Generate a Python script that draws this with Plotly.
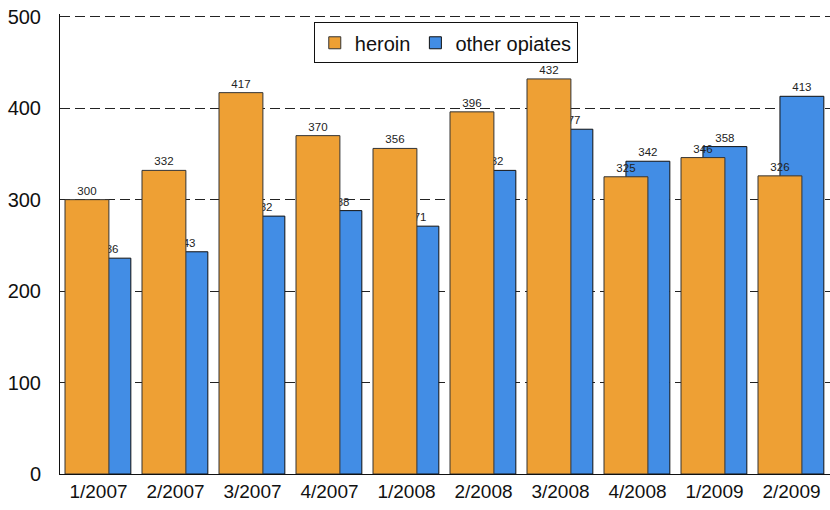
import plotly.graph_objects as go

categories = ["1/2007", "2/2007", "3/2007", "4/2007", "1/2008", "2/2008", "3/2008", "4/2008", "1/2009", "2/2009"]
heroin = [300, 332, 417, 370, 356, 396, 432, 325, 346, 326]
other_opiates = [236, 243, 282, 288, 271, 332, 377, 342, 358, 413]
y_ticks = [0, 100, 200, 300, 400, 500]

ORANGE = "#EEA034"
BLUE = "#428DE5"
FONT = "Liberation Sans, Arial"

fig = go.Figure()
fig.add_trace(go.Bar(
    x=categories, y=other_opiates, name="other opiates",
    marker=dict(color=BLUE, line=dict(color="#111", width=1)),
    offset=-0.15, width=0.57,
    text=[str(v) for v in other_opiates], textposition="outside",
    textfont=dict(size=11.5, color="#222", family=FONT),
    cliponaxis=False,
))
fig.add_trace(go.Bar(
    x=categories, y=heroin, name="heroin",
    marker=dict(color=ORANGE, line=dict(color="#333", width=1)),
    offset=-0.435, width=0.57,
    text=[str(v) for v in heroin], textposition="outside",
    textfont=dict(size=11.5, color="#222", family=FONT),
    cliponaxis=False,
))

fig.update_layout(
    width=830, height=510,
    margin=dict(l=60, r=0, t=14, b=36, autoexpand=False),
    barmode="overlay",
    paper_bgcolor="white", plot_bgcolor="white",
    font=dict(family=FONT, size=20, color="#111"),
    showlegend=True,
    legend=dict(
        orientation="h", x=0.501, xanchor="center", y=0.982, yanchor="top",
        bordercolor="#111", borderwidth=1, bgcolor="white",
        font=dict(size=20), traceorder="reversed",
        itemwidth=30, tracegroupgap=0,
    ),
    xaxis=dict(
        showline=True, linecolor="#111", linewidth=1, automargin=False,
        showgrid=False, ticks="", tickfont=dict(size=19),
    ),
    yaxis=dict(
        range=[0, 503], tickvals=y_ticks, automargin=False,
        showline=True, linecolor="#111", linewidth=1,
        showgrid=True, gridcolor="#222", gridwidth=1, griddash="10px,5px",
        zeroline=False, ticks="", tickfont=dict(size=20),
        ticklabelstandoff=14,
    ),
)

fig.write_html("out.html", config={"displayModeBar": False},
               post_script="document.body.style.margin='0px';")
